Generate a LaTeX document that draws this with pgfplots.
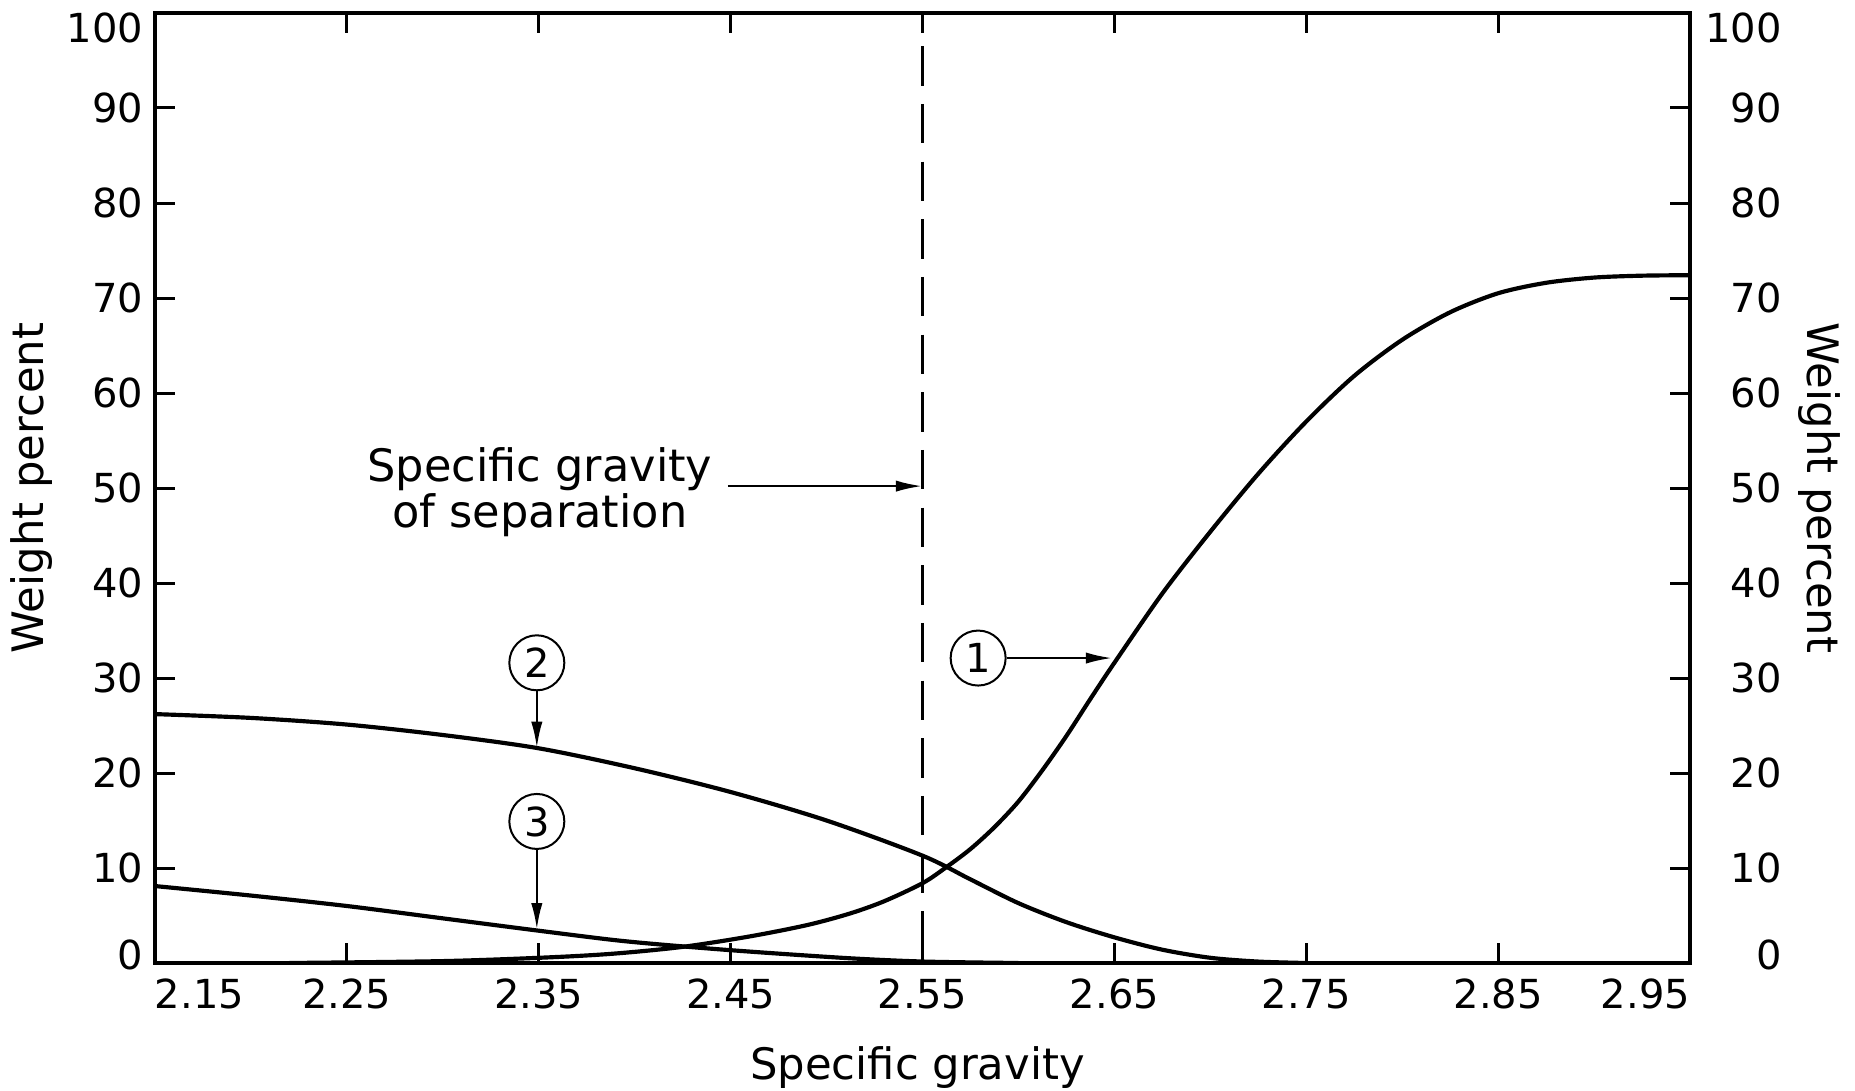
\documentclass[border=0pt]{standalone}
\usepackage{fontspec}
\setmainfont{DejaVu Sans}
\usepackage{pgfplots}
\usepackage{pgfplotstable}
\pgfplotsset{compat=1.18}
\usetikzlibrary{calc,arrows.meta}
\newcommand\ylab[2]{\raisebox{#1}[8.75pt][0pt]{#2}}

\pgfplotstableread{
x y
2.22 0
2.30 0.2
2.356 0.6
2.39 1.0
2.425 1.7
2.46 2.8
2.49 4.0
2.512 5.2
2.53 6.5
2.55 8.4
2.5625 10.1
2.575 12.0
2.5875 14.3
2.60 17.0
2.6125 20.3
2.625 23.9
2.6375 27.8
2.65 31.6
2.675 38.9
2.70 45.4
2.725 51.5
2.75 57.0
2.775 61.8
2.80 65.6
2.825 68.5
2.85 70.5
2.875 71.6
2.90 72.15
2.925 72.35
2.95 72.4
}\curveone

\pgfplotstableread{
x y
2.15 26.2
2.20 25.8
2.25 25.1
2.30 24.0
2.35 22.6
2.40 20.5
2.45 18.0
2.50 15.0
2.55 11.3
2.575 8.8
2.60 6.3
2.625 4.3
2.65 2.7
2.675 1.4
2.70 0.55
2.725 0.15
2.75 0
}\curvetwo

\pgfplotstableread{
x y
2.15 8.1
2.20 7.1
2.25 6.0
2.30 4.7
2.35 3.4
2.39 2.4
2.422 1.8
2.46 1.2
2.512 0.5
2.551 0.15
2.60 0
}\curvethree

\begin{document}
\begin{tikzpicture}
\pgfplotsset{
  common/.style={
    scale only axis, width=460.5pt, height=285pt,
    xmin=2.15, xmax=2.95, ymin=0, ymax=100,
    ytick={0,10,20,30,40,50,60,70,80,90,100},
    yticklabels={\ylab{2.4pt}{0},10,20,30,40,50,60,70,80,90,\ylab{-4.5pt}{100}},
    tick align=inside, major tick length=6pt,
    tick style={line width=0.9pt, black},
    axis line style={line width=1.2pt},
    tick label style={font=\fontsize{12}{14}\selectfont},
  }
}
\begin{axis}[common, name=ax,
  xtick={2.15,2.25,2.35,2.45,2.55,2.65,2.75,2.85,2.95},
  xticklabels={\makebox[0pt][l]{2.15},2.25,2.35,2.45,2.55,2.65,2.75,2.85,\makebox[0pt][r]{2.95}},
  xticklabel style={yshift=-1.1pt},
  ytick pos=left,
]
\addplot[black, line width=1.25pt, smooth] table {\curveone};
\addplot[black, line width=1.25pt, smooth] table {\curvetwo};
\addplot[black, line width=1.25pt, smooth] table {\curvethree};

\draw[line width=0.75pt, dash pattern=on 11.8pt off 5.5pt] (axis cs:2.55,96.5) -- (axis cs:2.55,0);

\node[circle, draw, line width=0.6pt, minimum size=16.5pt, inner sep=0pt, font=\fontsize{12}{14}\selectfont] (c2) at (axis cs:2.349,31.6) {2};
\draw[line width=0.8pt, -{Latex[length=8pt,width=3.4pt]}] (c2.south) -- (axis cs:2.349,22.6);

\node[circle, draw, line width=0.6pt, minimum size=16.5pt, inner sep=0pt, font=\fontsize{12}{14}\selectfont] (c3) at (axis cs:2.349,14.9) {3};
\draw[line width=0.8pt, -{Latex[length=8pt,width=3.4pt]}] (c3.south) -- (axis cs:2.349,3.5);

\node[circle, draw, line width=0.6pt, minimum size=16.5pt, inner sep=0pt, font=\fontsize{12}{14}\selectfont] (c1) at (axis cs:2.579,32.1) {1};
\draw[line width=0.8pt, -{Latex[length=8pt,width=3.4pt]}] (c1.east) -- (axis cs:2.649,32.1);

\node[anchor=north, align=center, inner sep=0pt, font=\fontsize{13.4}{13.8}\selectfont] at (axis cs:2.3506,54.3) {Specific gravity\\of separation};
\draw[line width=0.8pt, -{Latex[length=8pt,width=3.4pt]}] (axis cs:2.4486,50.2) -- (axis cs:2.55,50.2);
\end{axis}

\begin{axis}[common, name=ax2,
  hide x axis,
  axis y line*=right,
  yticklabel style={anchor=east, xshift=31pt},
]
\end{axis}

\node[rotate=90, anchor=base, font=\fontsize{13}{15}\selectfont] at ($(ax.west)+(-33.6pt,0)$) {Weight percent};
\node[rotate=-90, anchor=base, font=\fontsize{13}{15}\selectfont] at ($(ax.east)+(35.1pt,0)$) {Weight percent};
\node[anchor=base, font=\fontsize{13}{15}\selectfont] at ($(ax.south)+(-1.5pt,-34.8pt)$) {Specific gravity};

\pgfresetboundingbox
\path[use as bounding box] ($(ax.south west)+(-46.5pt,-38.1pt)$) rectangle ($(ax.north east)+(49.5pt,3.9pt)$);
\end{tikzpicture}
\end{document}
